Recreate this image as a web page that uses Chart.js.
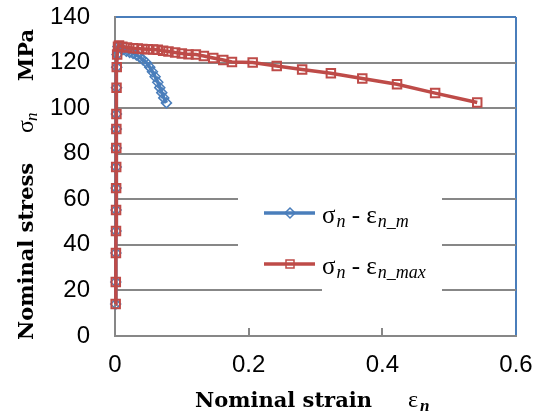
<!DOCTYPE html>
<html>
<head>
<meta charset="utf-8">
<script src="https://cdn.jsdelivr.net/npm/chart.js@4/dist/chart.umd.min.js"></script>
<style>
  html, body { margin: 0; padding: 0; background: #fff; }
  canvas { display: block; }
</style>
</head>
<body>
<canvas id="ss_chart" width="542" height="414"></canvas>
<script>
// sigma_n - eps_n_max (red squares)
var strainMax = [0.0010, 0.0012, 0.0014, 0.0015, 0.0016, 0.0017, 0.0018, 0.0019, 0.0020, 0.0021, 0.0023, 0.0026, 0.0032, 0.0045,
  0.006, 0.011, 0.018, 0.027, 0.034, 0.041, 0.049, 0.057, 0.064, 0.072, 0.080, 0.090, 0.100, 0.110, 0.121, 0.133,
  0.147, 0.162, 0.175, 0.206, 0.242, 0.280, 0.323, 0.370, 0.422, 0.479, 0.542];
var stressMax = [14.0, 23.7, 36.4, 46.1, 55.3, 64.9, 74.2, 82.5, 90.8, 97.4, 109.0, 118.0, 123.5, 127.0,
  127.5, 127.0, 126.6, 126.3, 126.2, 126.0, 125.8, 125.7, 125.6, 125.2, 124.9, 124.4, 124.0, 123.6, 123.5, 122.9,
  122.0, 121.1, 120.3, 120.0, 118.5, 117.0, 115.3, 113.0, 110.5, 106.6, 102.5];

// sigma_n - eps_n_m (blue diamonds)
var strainM = [0.0010, 0.0012, 0.0014, 0.0015, 0.0016, 0.0017, 0.0018, 0.0019, 0.0020, 0.0021, 0.0023, 0.0026, 0.0032, 0.0045,
  0.008, 0.012, 0.017, 0.022, 0.027, 0.032, 0.037, 0.042, 0.047, 0.052, 0.056, 0.060, 0.064, 0.067, 0.070, 0.073, 0.077];
var stressM = [14.0, 23.7, 36.4, 46.1, 55.3, 64.9, 74.2, 82.5, 90.8, 97.4, 109.0, 118.0, 123.5, 127.0,
  126.5, 125.8, 125.0, 124.5, 124.0, 123.3, 122.4, 121.2, 119.9, 118.0, 116.0, 113.8, 111.4, 109.0, 106.8, 104.5, 102.3];

var xTicks = [0, 0.2, 0.4, 0.6];
var yTicks = [0, 20, 40, 60, 80, 100, 120, 140];

var blue = '#4A7EBB';
var red = '#BE4B48';
var gridGray = '#878787';

function toPoints(xs, ys) {
  var pts = [];
  for (var i = 0; i < xs.length; i++) pts.push({x: xs[i], y: ys[i]});
  return pts;
}

// white legend box covering the gridlines, then legend + axis titles
var decor = {
  id: 'decor',
  beforeDatasetsDraw: function(chart) {
    var c = chart.ctx;
    c.save();
    c.fillStyle = '#fff';
    c.fillRect(238, 162, 204, 124);
    c.fillRect(322, 286, 120, 10);
    c.restore();
  },
  afterDraw: function(chart) {
    var c = chart.ctx;
    var xs = chart.scales.x;
    var area = chart.chartArea;
    c.save();

    // inner tick marks on the x axis
    c.strokeStyle = gridGray;
    c.lineWidth = 2;
    xTicks.forEach(function(v) {
      if (v === 0 || v === 0.6) return;
      var px = Math.round(xs.getPixelForValue(v));
      c.beginPath();
      c.moveTo(px, area.bottom);
      c.lineTo(px, area.bottom - 8);
      c.stroke();
    });

    // legend
    var rows = [
      {color: blue, style: 'diamond', y: 213, sub2: 'n_m'},
      {color: red, style: 'square', y: 264, sub2: 'n_max'}
    ];
    rows.forEach(function(r) {
      c.strokeStyle = r.color;
      c.lineWidth = 3.5;
      c.beginPath();
      c.moveTo(264, r.y);
      c.lineTo(315, r.y);
      c.stroke();
      c.lineWidth = 1.5;
      c.beginPath();
      if (r.style === 'diamond') {
        c.moveTo(290, r.y - 5); c.lineTo(295, r.y); c.lineTo(290, r.y + 5); c.lineTo(285, r.y);
        c.closePath();
      } else {
        c.rect(286, r.y - 4, 8, 8);
      }
      c.stroke();

      var base = r.y + 10;
      var x = 322;
      c.fillStyle = '#000';
      c.textBaseline = 'alphabetic';
      c.textAlign = 'left';
      c.font = '25px "Liberation Serif"';
      c.fillText('σ', x, base);
      x += c.measureText('σ').width;
      c.font = 'italic 18px "Liberation Serif"';
      c.fillText('n', x + 1, base + 4);
      x += c.measureText('n').width + 1;
      c.font = '25px "Liberation Serif"';
      c.fillText(' - ', x, base);
      x += c.measureText(' - ').width;
      c.fillText('ε', x, base);
      x += c.measureText('ε').width;
      c.font = 'italic 18px "Liberation Serif"';
      c.fillText(r.sub2, x + 1, base + 4);
    });

    // x axis title
    c.fillStyle = '#000';
    c.font = 'bold 21px "DejaVu Serif"';
    c.fillText('Nominal strain', 195, 407);
    c.font = '24px "Liberation Serif"';
    c.fillText('ε', 408, 407);
    c.font = 'bold italic 17px "Liberation Serif"';
    c.fillText('n', 420, 411);

    // y axis title (rotated)
    c.translate(33, 0);
    c.rotate(-Math.PI / 2);
    c.font = 'bold 21px "DejaVu Serif"';
    c.fillText('Nominal stress', -340, 0);
    c.font = '24px "Liberation Serif"';
    c.fillText('σ', -133, 0);
    c.font = 'italic 17px "Liberation Serif"';
    c.fillText('n', -121, 4);
    c.font = 'bold 21px "DejaVu Serif"';
    c.fillText('MPa', -81, 0);

    c.restore();
  }
};

Chart.defaults.font.family = '"Liberation Sans", Arial, sans-serif';
Chart.defaults.color = '#000';

var ctx = document.getElementById('ss_chart').getContext('2d');
var ss_chart = new Chart(ctx, {
  type: 'scatter',
  data: {
    datasets: [{
      label: 'σn - εn_max',
      data: toPoints(strainMax, stressMax),
      showLine: true,
      clip: false,
      borderColor: red,
      borderWidth: 3.5,
      pointStyle: 'rect',
      pointRadius: 6,
      pointBorderWidth: 2,
      pointBackgroundColor: 'rgba(255,255,255,0)',
      pointBorderColor: red,
      tension: 0,
      order: 0
    }, {
      label: 'σn - εn_m',
      data: toPoints(strainM, stressM),
      showLine: true,
      clip: false,
      borderColor: blue,
      borderWidth: 3.5,
      pointStyle: 'rectRot',
      pointRadius: 5,
      pointBorderWidth: 1.5,
      pointBackgroundColor: 'rgba(255,255,255,0)',
      pointBorderColor: blue,
      tension: 0,
      order: 1
    }]
  },
  options: {
    responsive: false,
    animation: false,
    layout: { padding: { left: 0, top: 17, right: 26, bottom: 0 } },
    plugins: {
      legend: { display: false },
      tooltip: { enabled: false }
    },
    scales: {
      x: {
        type: 'linear',
        min: 0, max: 0.6,
        afterFit: function(s) { s.height = 78; s.paddingLeft = 0; s.paddingRight = 0; },
        afterBuildTicks: function(s) { s.ticks = xTicks.map(function(v) { return {value: v}; }); },
        ticks: { font: { size: 24 }, padding: 15, maxRotation: 0 },
        grid: {
          drawTicks: false,
          lineWidth: 2,
          color: function(c) { return c.tick && c.tick.value === 0.6 ? blue : 'rgba(0,0,0,0)'; }
        },
        border: { display: true, color: gridGray, width: 2 }
      },
      y: {
        min: 0, max: 140,
        afterFit: function(s) { s.width = 115; s.paddingTop = 0; s.paddingBottom = 0; },
        afterBuildTicks: function(s) { s.ticks = yTicks.map(function(v) { return {value: v}; }); },
        ticks: { font: { size: 24 }, padding: 25 },
        grid: {
          drawTicks: false,
          lineWidth: 2,
          color: function(c) { return c.tick && c.tick.value === 140 ? blue : gridGray; }
        },
        border: { display: true, color: gridGray, width: 2 }
      }
    }
  },
  plugins: [decor]
});
</script>
</body>
</html>
